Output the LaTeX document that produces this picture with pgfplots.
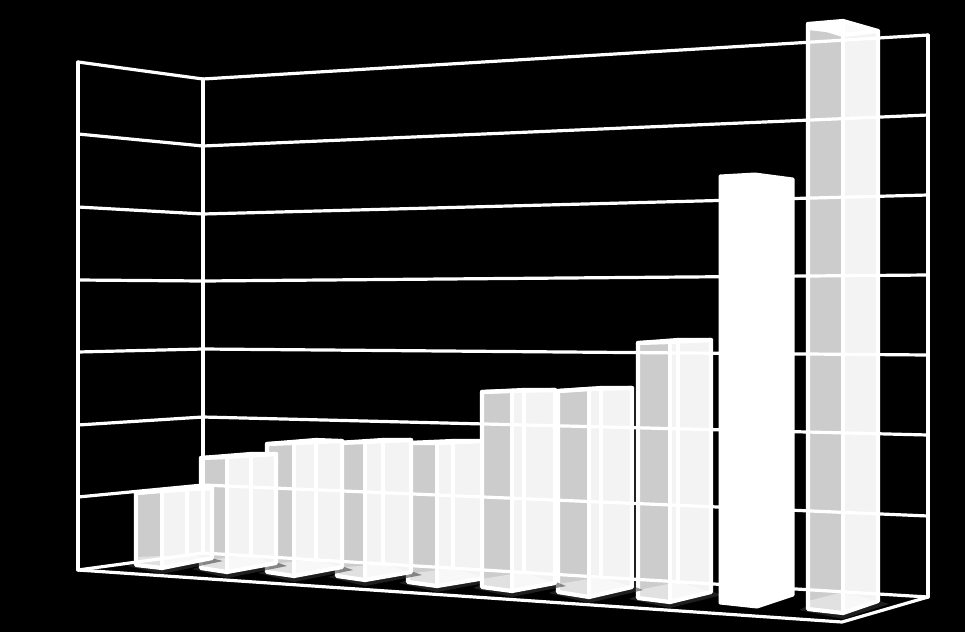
\documentclass[border=0pt]{standalone}
\usepackage{pgfplots}
\pgfplotsset{compat=1.18}
\definecolor{faceL}{HTML}{CCCCCC}
\definecolor{faceR}{HTML}{F3F3F3}
\pgfplotsset{
  wf/.style={draw=white,line width=4.2pt,line join=round,line cap=round,forget plot},
  gl/.style={draw=white,line width=3.2pt,line join=round,line cap=round,forget plot},
  pf/.style={draw=none,fill=#1,forget plot},
}
% x positions of one bar: left edge, front edge, back edge, right edge
\newcommand\setbar[4]{\def\xa{#1}\def\xc{#2}\def\xb{#3}\def\xd{#4}}
% y values: top left, top front, top back, top right, base left, base front, base right, base back
\newcommand\drawbar[8]{%
  \addplot[pf=black!78,fill opacity=.55] coordinates {(\xa-9,#5+1) (\xc,#6+6) (\xd+11,#7+3) (\xb,#8-3)} -- cycle;
  \addplot[pf=faceL] coordinates {(\xa,#1) (\xc,#2) (\xc,#6) (\xa,#5)} -- cycle;
  \addplot[pf=faceR] coordinates {(\xc,#2) (\xb,#3) (\xd,#4) (\xd,#7) (\xc,#6)} -- cycle;
  \addplot[pf=white,fill opacity=.42] coordinates {(\xa,#5) (\xc,#6) (\xd,#7) (\xb,#8) (\xa,#5-8)} -- cycle;
  \addplot[pf=white,fill opacity=.7] coordinates {(\xa,#1) (\xb,#3) (\xd,#4) (\xc,#2)} -- cycle;
  \addplot[wf] coordinates {(\xa,#1) (\xb,#3) (\xd,#4) (\xd,#7) (\xc,#6) (\xa,#5) (\xa,#1)};
  \addplot[wf] coordinates {(\xa,#1) (\xc,#2) (\xd,#4)};
  \addplot[wf] coordinates {(\xc,#2) (\xc,#6)};
  \addplot[wf] coordinates {(\xb,#3) (\xb,#8)};
}
\begin{document}
\begin{tikzpicture}
\begin{axis}[
  hide axis, scale only axis, width=965pt, height=632pt,
  xmin=0, xmax=965, ymin=0, ymax=632, y dir=reverse,
  clip=true,
]
% background
\addplot[pf=black] coordinates {(0,0) (965,0) (965,632) (0,632)} -- cycle;

% bars, drawn back to front
\setbar{808}{843}{843}{878}
\drawbar{24}{35}{21}{31}{609}{613}{601}{592}
\addplot[pf=white] coordinates {(808,24) (843,21) (843,34) (808,30)} -- cycle;
\setbar{638}{670}{678}{711}
\drawbar{343}{342}{340}{340}{598}{602}{592}{582}
\setbar{558}{589}{601}{632}
\drawbar{391}{389}{388}{388}{592}{597}{587}{577}
\setbar{408}{437}{453}{485}
\drawbar{443}{443}{441}{441}{582}{586}{578}{568}
\setbar{482}{512}{524}{555}
\drawbar{392}{391}{390}{390}{587}{591}{583}{572}
\setbar{337}{365}{383}{411}
\drawbar{443}{442}{440}{440}{576}{580}{572}{564}
\setbar{267}{294}{316}{342}
\drawbar{444}{443}{440}{441}{572}{576}{567}{560}
\setbar{201}{227}{251}{276}
\drawbar{458}{457}{454}{454}{568}{572}{563}{556}
\setbar{136}{162}{187}{212}
\drawbar{493}{491}{488}{488}{565}{568}{558}{555}

% left wall gridlines
\addplot[gl] coordinates {(78,62) (203,79)};
\addplot[gl] coordinates {(78,134) (203,146)};
\addplot[gl] coordinates {(78,207) (203,214)};
\addplot[gl] coordinates {(78,280) (203,281)};
\addplot[gl] coordinates {(78,352) (203,349)};
\addplot[gl] coordinates {(78,425) (203,417)};
\addplot[gl] coordinates {(78,497) (203,485)};
\addplot[gl] coordinates {(78,570) (203,553)};
% back wall gridlines
\addplot[gl] coordinates {(203,79) (928,35)};
\addplot[gl] coordinates {(203,146) (928,115)};
\addplot[gl] coordinates {(203,214) (928,195)};
\addplot[gl] coordinates {(203,281) (928,275)};
\addplot[gl] coordinates {(203,349) (928,355)};
\addplot[gl] coordinates {(203,417) (928,435)};
\addplot[gl] coordinates {(203,485) (928,516)};
\addplot[gl] coordinates {(203,553) (928,597)};
% verticals
\addplot[gl] coordinates {(78,62) (78,570)};
\addplot[gl] coordinates {(203,79) (203,553)};
\addplot[gl] coordinates {(928,35) (928,597)};
% floor front
\addplot[gl] coordinates {(78,570) (842,622) (928,597)};

% the solid white bar
\addplot[pf=white,draw=white,line width=3pt,line join=round] coordinates {(720,176) (755,174) (793,179) (793,595) (757,607) (720,603)} -- cycle;
\end{axis}
\end{tikzpicture}
\end{document}
